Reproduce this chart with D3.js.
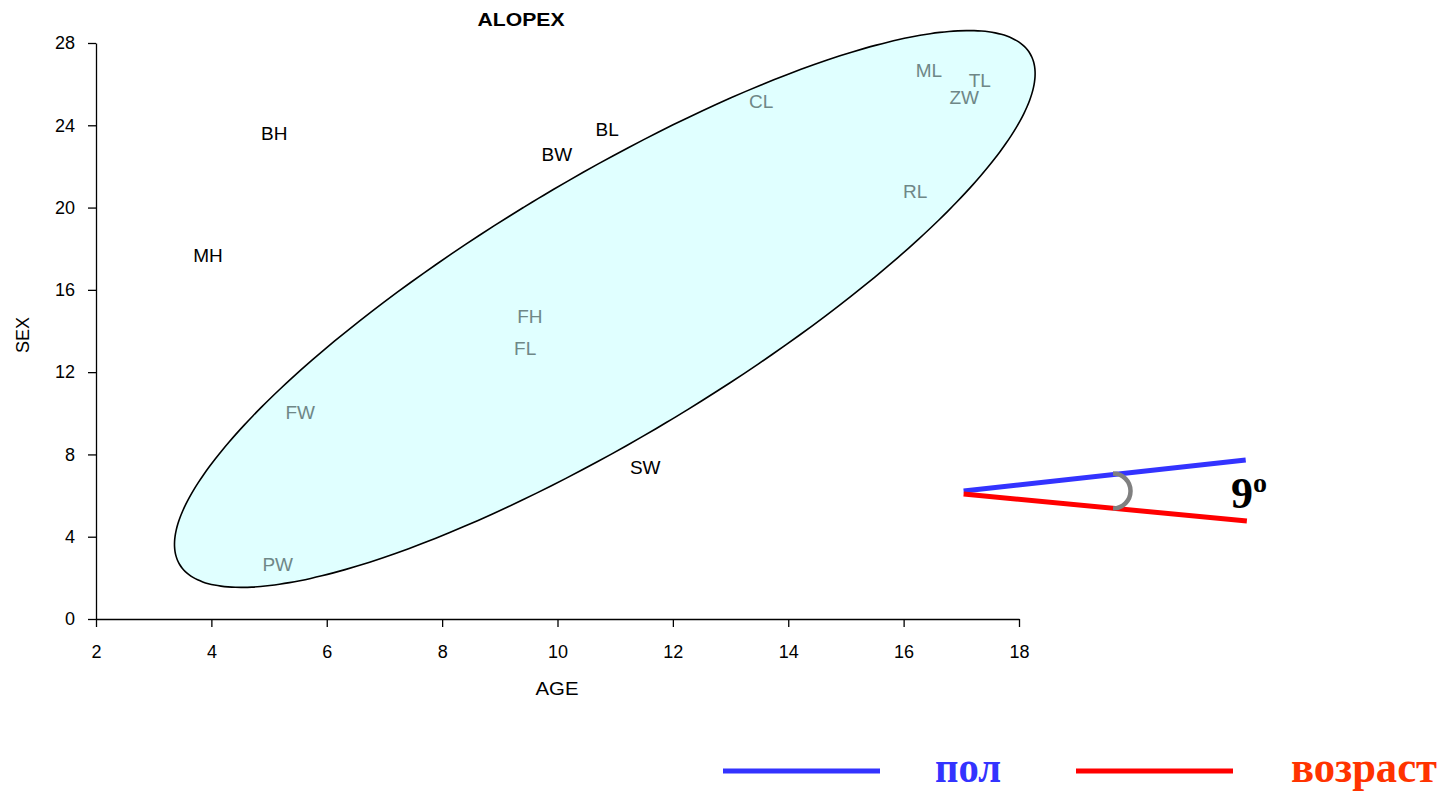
<!DOCTYPE html>
<html>
<head>
<meta charset="utf-8">
<script src="https://cdn.jsdelivr.net/npm/d3@7"></script>
<style>
  html, body { margin: 0; padding: 0; background: #fff; }
  svg { display: block; }
  .axis text { font-family: "Liberation Sans", Arial, sans-serif; font-size: 18px; fill: #000; }
  .axis path, .axis line { stroke: #000; stroke-width: 1.3px; }
</style>
</head>
<body>
<svg id="chart" width="1453" height="792"></svg>
<script>
// Traits and their (AGE, SEX) loadings
const traits   = ["BH", "MH", "BW", "BL", "CL", "ML", "TL", "ZW", "RL", "FH", "FL", "FW", "SW", "PW"];
const ageVals  = [5.09, 3.94, 9.99, 10.86, 13.53, 16.44, 17.32, 17.05, 16.2, 9.52, 9.44, 5.54, 11.52, 5.15];
const sexVals  = [23.63, 17.70, 22.60, 23.82, 25.18, 26.69, 26.20, 25.38, 20.81, 14.73, 13.17, 10.06, 7.39, 2.67];
const inGroup  = [false, false, false, false, true, true, true, true, true, true, true, true, false, true];

// Axis ticks
const xTicks = [2, 4, 6, 8, 10, 12, 14, 16, 18];
const yTicks = [0, 4, 8, 12, 16, 20, 24, 28];

// Grouping ellipse: centre and the two semi-axis vectors, in axis units
const ellipseCenter = [10.82, 15.07];
const ellipseMajor  = [7.37, 12.42];
const ellipseMinor  = [1.151, -5.377];

// Angle between the sex and age directions, in axis units
const sexLine = [[17.04, 6.22], [21.93, 7.73]];
const ageLine = [[17.04, 6.08], [21.95, 4.76]];
const arcCenter = [19.63, 6.22];
const angleDeg = 9;

// Legend entries
const legendItems = ["пол", "возраст"];

const svg = d3.select("#chart");
const x = d3.scaleLinear().domain([2, 18]).range([96, 1019]);
const y = d3.scaleLinear().domain([0, 28]).range([619, 43]);

// Ellipse outline
const tSteps = d3.range(0, 361, 2).map(d => d * Math.PI / 180);
const ellipsePts = tSteps.map(t => [
  x(ellipseCenter[0] + Math.cos(t) * ellipseMajor[0] + Math.sin(t) * ellipseMinor[0]),
  y(ellipseCenter[1] + Math.cos(t) * ellipseMajor[1] + Math.sin(t) * ellipseMinor[1])
]);
svg.append("path")
  .attr("d", d3.line().curve(d3.curveCardinalClosed)(ellipsePts.slice(0, -1)))
  .attr("fill", "#e0ffff")
  .attr("stroke", "#000")
  .attr("stroke-width", 1.6);

// Axes
svg.append("g").attr("class", "axis")
  .attr("transform", `translate(0,${y(0)})`)
  .call(d3.axisBottom(x).tickValues(xTicks).tickFormat(d3.format("d")).tickSize(8).tickPadding(18).tickSizeOuter(0));
svg.append("g").attr("class", "axis")
  .attr("transform", `translate(${x(2)},0)`)
  .call(d3.axisLeft(y).tickValues(yTicks).tickFormat(d3.format("d")).tickSize(8).tickPadding(13).tickSizeOuter(0));

// Title and axis names
const sans = "'Liberation Sans', Arial, sans-serif";
svg.append("text").attr("x", 521).attr("y", 26).attr("text-anchor", "middle")
  .attr("font-family", sans).attr("font-weight", "bold").attr("font-size", 19)
  .attr("textLength", 87).attr("lengthAdjust", "spacingAndGlyphs").text("ALOPEX");
svg.append("text").attr("x", 557).attr("y", 695).attr("text-anchor", "middle")
  .attr("font-family", sans).attr("font-size", 19)
  .attr("textLength", 43).attr("lengthAdjust", "spacingAndGlyphs").text("AGE");
svg.append("text").attr("transform", "translate(29,335) rotate(-90)").attr("text-anchor", "middle")
  .attr("font-family", sans).attr("font-size", 18).text("SEX");

// Trait labels
svg.append("g").selectAll("text")
  .data(traits)
  .join("text")
  .attr("x", (d, i) => x(ageVals[i]))
  .attr("y", (d, i) => y(sexVals[i]))
  .attr("dy", "0.35em")
  .attr("text-anchor", "middle")
  .attr("font-family", sans)
  .attr("font-size", 19)
  .attr("fill", (d, i) => inGroup[i] ? "#6f8787" : "#000")
  .text(d => d);

// Angle diagram
const lineGen = d3.line().x(d => x(d[0])).y(d => y(d[1]));
svg.append("path").attr("d", lineGen(sexLine)).attr("stroke", "#3333ff").attr("stroke-width", 5).attr("fill", "none");
svg.append("path").attr("d", lineGen(ageLine)).attr("stroke", "#ff0000").attr("stroke-width", 5).attr("fill", "none");
const arcPath = d3.path();
arcPath.arc(x(arcCenter[0]), y(arcCenter[1]), 17.5, -Math.PI / 2, Math.PI / 2);
svg.append("path").attr("d", arcPath.toString()).attr("stroke", "#808080").attr("stroke-width", 4.5).attr("fill", "none");

const serif = "'Liberation Serif', 'Times New Roman', serif";
const angleText = svg.append("text").attr("x", 1231).attr("y", 508)
  .attr("font-family", serif).attr("font-weight", "bold").attr("font-size", 44).attr("fill", "#000");
angleText.append("tspan").text(angleDeg);
angleText.append("tspan").attr("font-size", 28).attr("dy", -16).text("o");

// Legend
const legendColors = ["#3333ff", "#ff0000"];
const legendTextColors = ["#3333ff", "#ff3300"];
const legendX = [723, 1076];
const legendTextX = [935, 1291];
const legendTextLen = [66, 146];
const legend = svg.append("g").selectAll("g").data(legendItems).join("g");
legend.append("line")
  .attr("x1", (d, i) => legendX[i]).attr("x2", (d, i) => legendX[i] + 157)
  .attr("y1", 771).attr("y2", 771)
  .attr("stroke", (d, i) => legendColors[i]).attr("stroke-width", 5);
legend.append("text")
  .attr("x", (d, i) => legendTextX[i]).attr("y", 782)
  .attr("font-family", serif).attr("font-weight", "bold").attr("font-size", 44)
  .attr("textLength", (d, i) => legendTextLen[i]).attr("lengthAdjust", "spacingAndGlyphs")
  .attr("fill", (d, i) => legendTextColors[i])
  .text(d => d);
</script>
</body>
</html>
